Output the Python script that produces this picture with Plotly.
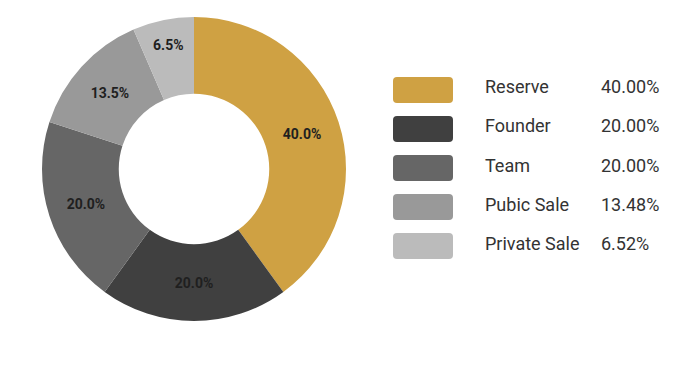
import plotly.graph_objects as go

labels = ["Reserve", "Founder", "Team", "Pubic Sale", "Private Sale"]
values = [40.00, 20.00, 20.00, 13.48, 6.52]
legend_pct = ["40.00%", "20.00%", "20.00%", "13.48%", "6.52%"]
colors = ["#CFA143", "#404040", "#666666", "#999999", "#BBBBBB"]

# page has an 8px body margin; work in figure pixels = page pixels - 8
OFF = 8
W, H = 692, 367
cx, cy, R = 194 - OFF, 169 - OFF, 152

fig = go.Figure(go.Pie(
    labels=labels, values=values, hole=0.495, sort=False, direction="clockwise",
    rotation=0, marker=dict(colors=colors, line=dict(width=0)),
    texttemplate="%{percent:.1%}", textposition="inside", insidetextorientation="horizontal",
    textfont=dict(family="Roboto", size=14, color="#1f1f1f", weight="bold"),
    hoverinfo="skip", showlegend=False,
    domain=dict(x=[(cx - R) / W, (cx + R) / W], y=[(H - cy - R) / H, (H - cy + R) / H]),
))

def px(x): return (x - OFF) / W
def py(y): return 1 - (y - OFF) / H

shapes, annots = [], []
for i, (lab, pct, col) in enumerate(zip(labels, legend_pct, colors)):
    yc = 90 + 39 * i
    x0, x1, y0, y1, r = 393, 453, yc - 13, yc + 13, 4
    path = (f"M {px(x0+r)},{py(y0)} L {px(x1-r)},{py(y0)} Q {px(x1)},{py(y0)} {px(x1)},{py(y0+r)} "
            f"L {px(x1)},{py(y1-r)} Q {px(x1)},{py(y1)} {px(x1-r)},{py(y1)} "
            f"L {px(x0+r)},{py(y1)} Q {px(x0)},{py(y1)} {px(x0)},{py(y1-r)} "
            f"L {px(x0)},{py(y0+r)} Q {px(x0)},{py(y0)} {px(x0+r)},{py(y0)} Z")
    shapes.append(dict(type="path", xref="paper", yref="paper", path=path,
                       fillcolor=col, line=dict(width=0)))
    ty = yc - 3
    annots.append(dict(x=px(483), y=py(ty), xref="paper", yref="paper", text=lab,
                       showarrow=False, xanchor="left", yanchor="middle",
                       font=dict(family="Roboto", size=18, color="#333333")))
    annots.append(dict(x=px(599), y=py(ty), xref="paper", yref="paper", text=pct,
                       showarrow=False, xanchor="left", yanchor="middle",
                       font=dict(family="Roboto", size=18, color="#333333")))

fig.update_layout(width=W, height=H, margin=dict(l=0, r=0, t=0, b=0),
                  paper_bgcolor="white", plot_bgcolor="white",
                  shapes=shapes, annotations=annots)

fig.write_html("out.html")
